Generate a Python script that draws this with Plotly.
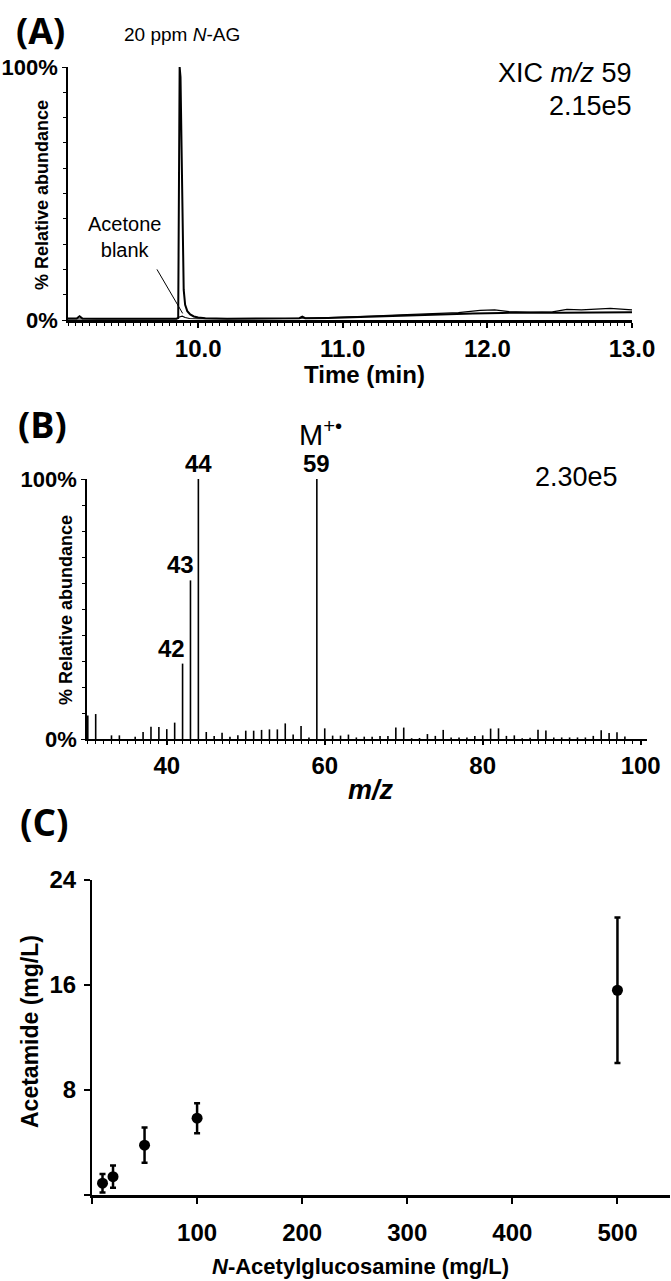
import plotly.graph_objects as go

# ---- (A) XIC m/z 59 chromatograms ----
time_nag = [9.10, 9.16, 9.18, 9.20, 9.30, 9.50, 9.70, 9.85, 9.862, 9.866, 9.872, 9.878,
            9.885, 9.893, 9.900, 9.910, 9.925, 9.945, 9.970, 10.00, 10.05, 10.20, 10.40,
            10.60, 10.70, 10.72, 10.74, 10.90, 11.10, 11.30, 11.50, 11.70, 11.90, 12.10,
            12.30, 12.50, 12.70, 12.90, 13.00]
abund_nag = [0.6, 0.6, 1.5, 0.6, 0.5, 0.5, 0.5, 0.5, 0.8, 45, 100, 96,
             65, 30, 12, 6, 3.5, 2.2, 1.4, 1.0, 0.7, 0.5, 0.5,
             0.6, 0.7, 1.3, 0.7, 0.8, 1.2, 1.6, 2.0, 2.3, 2.6, 2.8,
             3.0, 2.9, 3.0, 3.1, 3.1]

time_blank = [9.10, 9.30, 9.50, 9.70, 9.85, 9.87, 9.89, 9.91, 9.94, 10.00, 10.30, 10.60,
              10.80, 11.00, 11.20, 11.40, 11.60, 11.80, 11.95, 12.05, 12.15, 12.30, 12.45,
              12.55, 12.65, 12.75, 12.85, 12.95, 13.00]
abund_blank = [0.4, 0.4, 0.4, 0.4, 0.5, 1.2, 1.5, 1.0, 0.6, 0.5, 0.5, 0.6,
               0.8, 1.0, 1.5, 2.0, 2.4, 2.9, 3.8, 4.0, 3.3, 3.0, 3.2,
               4.2, 4.0, 4.4, 4.6, 4.2, 4.0]

time_ticks = [10, 11, 12, 13]
time_labels = ["10.0", "11.0", "12.0", "13.0"]

# ---- (B) mass spectrum ----
mz = [30, 31, 33, 34, 36, 37, 38, 39, 40, 41, 42, 43, 44, 45, 46, 47, 48, 49, 50, 51,
      52, 53, 54, 55, 56, 57, 58, 59, 60, 61, 62, 63, 64, 65, 66, 67, 68, 69, 70, 71,
      72, 73, 74, 75, 76, 77, 78, 79, 80, 81, 82, 83, 84, 85, 86, 87, 88, 89, 90, 91,
      92, 93, 94, 95, 96, 97, 98]
rel_int = [9.0, 9.6, 1.4, 1.4, 0.9, 2.7, 4.7, 4.6, 3.8, 6.3, 29, 61, 100, 2.7, 1.2, 2.4, 0.9, 1.4, 3.2, 3.2,
           3.5, 3.7, 3.7, 6.0, 1.7, 5.0, 0.6, 100, 4.1, 1.3, 1.3, 1.7, 0.6, 0.9, 0.9, 1.2, 1.2, 4.4, 4.4, 0.3,
           0.4, 1.9, 1.2, 3.5, 0.6, 0.6, 0.6, 1.2, 1.4, 4.0, 4.1, 1.2, 1.4, 0.3, 0.5, 3.6, 3.3, 0.6, 0.6, 0.6,
           0.6, 0.6, 1.2, 3.4, 2.3, 2.6, 1.0]
labelled_peaks = [42, 43, 44, 59]

# ---- (C) calibration ----
nag_conc = [10, 20, 50, 100, 500]
acetamide = [0.9, 1.4, 3.8, 5.85, 15.6]
acetamide_err = [0.7, 0.85, 1.35, 1.15, 5.55]

W, H = 671, 1281


def fx(p):
    return p / W


def fy(p):
    return 1 - p / H


BOLD = "Liberation Sans, Arial, sans-serif"

# stick spectrum built from the arrays
stick_x, stick_y = [], []
for m, v in zip(mz, rel_int):
    stick_x += [m, m, None]
    stick_y += [0, v, None]

fig = go.Figure()
fig.add_trace(go.Scatter(x=time_blank, y=abund_blank, mode="lines", name="Acetone blank",
                         line=dict(color="black", width=1.2), xaxis="x", yaxis="y"))
fig.add_trace(go.Scatter(x=time_nag, y=abund_nag, mode="lines", name="20 ppm N-AG",
                         line=dict(color="black", width=2), xaxis="x", yaxis="y"))
fig.add_trace(go.Scatter(x=stick_x, y=stick_y, mode="lines", name="spectrum",
                         line=dict(color="black", width=1.6), xaxis="x2", yaxis="y2"))
fig.add_trace(go.Scatter(x=nag_conc, y=acetamide, mode="markers", name="acetamide",
                         marker=dict(color="black", size=11),
                         error_y=dict(type="data", array=acetamide_err, color="black",
                                      thickness=2.5, width=3),
                         xaxis="x3", yaxis="y3"))

axis_common = dict(showgrid=False, zeroline=False, showline=True, linecolor="black", automargin=False,
                   ticks="outside", tickcolor="black", tickfont=dict(family=BOLD, size=24, color="black"))
pct_font = dict(family=BOLD, size=22, color="black")

fig.update_layout(
    width=W, height=H, margin=dict(l=0, r=0, t=0, b=0, pad=0),
    plot_bgcolor="white", paper_bgcolor="white", showlegend=False,
    font=dict(family=BOLD, color="black"),
    # (A)
    xaxis=dict(**axis_common, domain=[fx(68), fx(632)], anchor="y", range=[9.1, 13.0],
               tickmode="array", tickvals=time_ticks, ticktext=["<b>%s</b>" % t for t in time_labels],
               ticklen=5, linewidth=2.5, tickwidth=1.5,
               minor=dict(ticks="outside", dtick=0.05, tick0=10, ticklen=3, tickcolor="black", tickwidth=1)),
    yaxis=dict(**axis_common, domain=[fy(320), fy(67)], anchor="x", range=[0, 100],
               tickmode="array", tickvals=[0, 100], ticktext=["<b>0%</b>", "<b>100%</b>"],
               ticklen=4, linewidth=1.5, tickwidth=1.2,
               minor=dict(ticks="outside", dtick=10, ticklen=3, tickcolor="black", tickwidth=1)),
    # (B)
    xaxis2=dict(**axis_common, domain=[fx(87), fx(647)], anchor="y2", range=[29.9, 100.8],
                tickmode="array", tickvals=[40, 60, 80, 100], ticktext=["<b>40</b>", "<b>60</b>", "<b>80</b>", "<b>100</b>"],
                ticklen=4, linewidth=2, tickwidth=1.5,
                minor=dict(ticks="outside", dtick=1, tick0=30, ticklen=3, tickcolor="black", tickwidth=1)),
    yaxis2=dict(**axis_common, domain=[fy(739), fy(479)], anchor="x2", range=[0, 100],
                tickmode="array", tickvals=[0, 100], ticktext=["<b>0%</b>", "<b>100%</b>"],
                ticklen=4, linewidth=1.5, tickwidth=1.2,
                minor=dict(ticks="outside", dtick=10, ticklen=3, tickcolor="black", tickwidth=1)),
    # (C)
    xaxis3=dict(**axis_common, domain=[fx(92), fx(670)], anchor="y3", range=[0, 550],
                tickmode="array", tickvals=[0, 100, 200, 300, 400, 500],
                ticktext=["", "<b>100</b>", "<b>200</b>", "<b>300</b>", "<b>400</b>", "<b>500</b>"],
                ticklen=6, linewidth=2.5, tickwidth=2, ticklabelstandoff=8),
    yaxis3=dict(**axis_common, domain=[fy(1195), fy(880)], anchor="x3", range=[0, 24],
                tickmode="array", tickvals=[0, 8, 16, 24], ticktext=["", "<b>8</b>", "<b>16</b>", "<b>24</b>"],
                ticklen=6, linewidth=2, tickwidth=2, ticklabelstandoff=3),
)
fig.update_layout(yaxis_tickfont=pct_font, yaxis2_tickfont=pct_font)

ann = []


def text(x, y, s, size, xanchor="center", yanchor="middle", family=BOLD, textangle=0):
    ann.append(dict(x=fx(x), y=fy(y), xref="paper", yref="paper", text=s, showarrow=False,
                    xanchor=xanchor, yanchor=yanchor, textangle=textangle,
                    font=dict(family=family, size=size, color="black")))


# panel letters
text(14, 30, "<b>(A)</b>", 36, xanchor="left", family="Open Sans, sans-serif")
text(16, 425, "<b>(B)</b>", 36, xanchor="left", family="Open Sans, sans-serif")
text(18, 821, "<b>(C)</b>", 37, xanchor="left", family="Open Sans, sans-serif")

# (A) texts
text(182, 34, "20 ppm <i>N</i>-AG", 19)
text(634, 73, "XIC <i>m/z</i> 59", 27, xanchor="right")
text(634, 106, "2.15e5", 27, xanchor="right")
text(124, 237, "Acetone<br>blank", 20)
text(364, 374, "<b>Time (min)</b>", 24)
text(42, 195, "<b>% Relative abundance</b>", 18, textangle=-90)
ann.append(dict(x=9.893, y=2.6, xref="x", yref="y", ax=9.709, ay=20.6, axref="x", ayref="y",
                text="", showarrow=True, arrowhead=0, arrowwidth=1, arrowcolor="black"))

# (B) texts
text(620, 477, "2.30e5", 27, xanchor="right")
text(320, 433, "M<sup>+•</sup>", 29)
text(371, 790, "<b><i>m/z</i></b>", 27)
text(66, 610, "<b>% Relative abundance</b>", 18, textangle=-90)
label_shift = {42: -11, 43: -10, 44: 0, 59: 0}
for m, v in zip(mz, rel_int):
    if m in labelled_peaks:
        ann.append(dict(x=m, y=v, xref="x2", yref="y2", text="<b>%d</b>" % m, showarrow=False,
                        xanchor="center", yanchor="bottom", xshift=label_shift[m], yshift=0,
                        font=dict(family=BOLD, size=24, color="black")))

# (C) texts
text(30, 1032, "<b>Acetamide (mg/L)</b>", 23, textangle=-90)
text(360, 1266, "<b><i>N</i>-Acetylglucosamine (mg/L)</b>", 22)

fig.update_layout(annotations=ann)
fig.write_html("out.html", config={"displayModeBar": False},
               post_script="document.body.style.margin='0';document.body.style.overflow='hidden';")
